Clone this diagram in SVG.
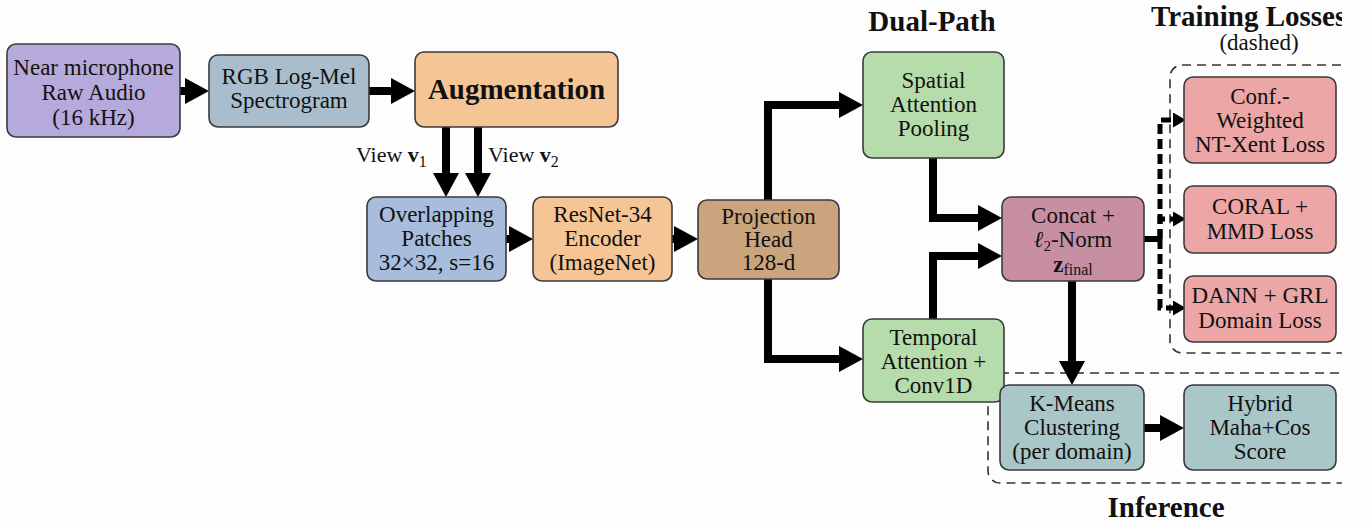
<svg xmlns="http://www.w3.org/2000/svg" width="1372" height="525" viewBox="0 0 1372 525">
<defs>
<clipPath id="crop"><rect x="0" y="0" width="1342" height="525"/></clipPath>
<marker id="ah" viewBox="0 0 12 13" refX="0" refY="6.5" markerWidth="3" markerHeight="3.25" orient="auto" markerUnits="strokeWidth">
<path d="M0,0 L12,6.5 L0,13 z" fill="#000"/>
</marker>
<marker id="ahs" viewBox="0 0 12 14" refX="0" refY="7" markerWidth="2.6" markerHeight="3" orient="auto" markerUnits="strokeWidth">
<path d="M0,0 L12,7 L0,14 z" fill="#000"/>
</marker>
</defs>
<style>
.box{stroke:#3a3a3a;stroke-width:1.6}
.t{font-family:"Liberation Serif","Times New Roman",serif;font-size:23px;fill:#111;text-anchor:middle}
.title{font-family:"Liberation Serif","Times New Roman",serif;font-size:29px;font-weight:bold;fill:#111;text-anchor:middle}
.lbl{font-family:"Liberation Serif","Times New Roman",serif;font-size:22px;fill:#111}
.c{fill:none;stroke:#000;stroke-width:8;marker-end:url(#ah)}
.d{fill:none;stroke:#000;stroke-width:5;stroke-dasharray:10 5;marker-end:url(#ahs)}
.cont{fill:none;stroke:#333;stroke-width:1.6;stroke-dasharray:9 6}
.audio{fill:#b5aadb}.mel{fill:#a9bdcc}.aug{fill:#f6c596}.patch{fill:#a8bcdb}.proj{fill:#c9a47d}
.green{fill:#b7dcab}.concat{fill:#c88fa2}.loss{fill:#eca6a6}.inf{fill:#a9c6c8}
</style>
<rect x="0" y="0" width="1372" height="525" fill="#fdfdfd"/>
<g clip-path="url(#crop)">
<g id="titles">
<text class="title" x="932" y="31" font-size="28">Dual-Path</text>
<text class="title" x="1151" y="26" font-size="30" style="text-anchor:start">Training Losses</text>
<text class="t" x="1259" y="50">(dashed)</text>
<text class="title" x="1166" y="517">Inference</text>
</g>
<g id="containers">
<rect class="cont" x="1170" y="65" width="240" height="288" rx="12"/>
<rect class="cont" x="988" y="373" width="420" height="110" rx="12"/>
</g>
<g id="connectors">
<path class="c" d="M180,91 H185"/>
<path class="c" d="M369,91 H391"/>
<path class="c" d="M446,127 V173"/>
<path class="c" d="M478,127 V173"/>
<path class="c" d="M506,239 H509"/>
<path class="c" d="M672,239 H674"/>
<path class="c" d="M768,200 V105 H839"/>
<path class="c" d="M768,279 V359 H839"/>
<path class="c" d="M933,158 V218 H978"/>
<path class="c" d="M933,319 V256 H978"/>
<path class="c" d="M1072,281 V361"/>
<path class="c" d="M1144,428 H1160"/>
<path d="M1144,239 H1160" fill="none" stroke="#000" stroke-width="6"/>
<path class="d" d="M1160,239 V120 H1173"/>
<path class="d" d="M1160,239 V219 H1173"/>
<path class="d" d="M1160,239 V308 H1173"/>
<text class="lbl" x="356" y="162">View <tspan font-weight="bold">v</tspan><tspan font-size="16" dy="5">1</tspan></text>
<text class="lbl" x="488" y="162">View <tspan font-weight="bold">v</tspan><tspan font-size="16" dy="5">2</tspan></text>
</g>
<g id="n_audio">
<rect class="box audio" x="7" y="44" width="173" height="93" rx="9"/>
<text class="t" x="93.5" y="75">Near microphone</text>
<text class="t" x="93.5" y="100">Raw Audio</text>
<text class="t" x="93.5" y="125">(16 kHz)</text>
</g>
<g id="n_mel">
<rect class="box mel" x="209" y="55" width="160" height="72" rx="9"/>
<text class="t" x="289" y="84">RGB Log-Mel</text>
<text class="t" x="289" y="108">Spectrogram</text>
</g>
<g id="n_aug">
<rect class="box aug" x="415" y="52" width="203" height="75" rx="9"/>
<text class="title" x="516.5" y="99">Augmentation</text>
</g>
<g id="n_patch">
<rect class="box patch" x="367" y="197" width="139" height="84" rx="9"/>
<text class="t" x="436.5" y="222">Overlapping</text>
<text class="t" x="436.5" y="246">Patches</text>
<text class="t" x="436.5" y="270">32×32, s=16</text>
</g>
<g id="n_resnet">
<rect class="box aug" x="533" y="197" width="139" height="84" rx="9"/>
<text class="t" x="602.5" y="222">ResNet-34</text>
<text class="t" x="602.5" y="246">Encoder</text>
<text class="t" x="602.5" y="270">(ImageNet)</text>
</g>
<g id="n_proj">
<rect class="box proj" x="698" y="200" width="141" height="79" rx="9"/>
<text class="t" x="768.5" y="224">Projection</text>
<text class="t" x="768.5" y="247">Head</text>
<text class="t" x="768.5" y="270">128-d</text>
</g>
<g id="n_spatial">
<rect class="box green" x="863" y="52" width="141" height="106" rx="9"/>
<text class="t" x="933.5" y="88">Spatial</text>
<text class="t" x="933.5" y="112">Attention</text>
<text class="t" x="933.5" y="136">Pooling</text>
</g>
<g id="n_temporal">
<rect class="box green" x="863" y="319" width="141" height="83" rx="9"/>
<text class="t" x="933.5" y="345">Temporal</text>
<text class="t" x="933.5" y="369">Attention +</text>
<text class="t" x="933.5" y="393">Conv1D</text>
</g>
<g id="n_concat">
<rect class="box concat" x="1002" y="197" width="142" height="84" rx="9"/>
<text class="t" x="1073" y="223">Concat +</text>
<text class="t" x="1073" y="247"><tspan font-style="italic">ℓ</tspan><tspan font-size="15" dy="4">2</tspan><tspan dy="-4">-Norm</tspan></text>
<text class="t" x="1073" y="272"><tspan font-weight="bold">z</tspan><tspan font-size="16" dy="3">final</tspan></text>
</g>
<g id="n_loss1">
<rect class="box loss" x="1184" y="77" width="152" height="86" rx="9"/>
<text class="t" x="1260" y="104">Conf.-</text>
<text class="t" x="1260" y="128">Weighted</text>
<text class="t" x="1260" y="152">NT-Xent Loss</text>
</g>
<g id="n_loss2">
<rect class="box loss" x="1184" y="186" width="152" height="67" rx="9"/>
<text class="t" x="1260" y="214">CORAL +</text>
<text class="t" x="1260" y="239">MMD Loss</text>
</g>
<g id="n_loss3">
<rect class="box loss" x="1184" y="276" width="152" height="66" rx="9"/>
<text class="t" x="1260" y="303">DANN + GRL</text>
<text class="t" x="1260" y="328">Domain Loss</text>
</g>
<g id="n_kmeans">
<rect class="box inf" x="1000" y="385" width="144" height="85" rx="9"/>
<text class="t" x="1072" y="411">K-Means</text>
<text class="t" x="1072" y="435">Clustering</text>
<text class="t" x="1072" y="459">(per domain)</text>
</g>
<g id="n_hybrid">
<rect class="box inf" x="1184" y="385" width="152" height="85" rx="9"/>
<text class="t" x="1260" y="411">Hybrid</text>
<text class="t" x="1260" y="435">Maha+Cos</text>
<text class="t" x="1260" y="459">Score</text>
</g>
</g>
</svg>
